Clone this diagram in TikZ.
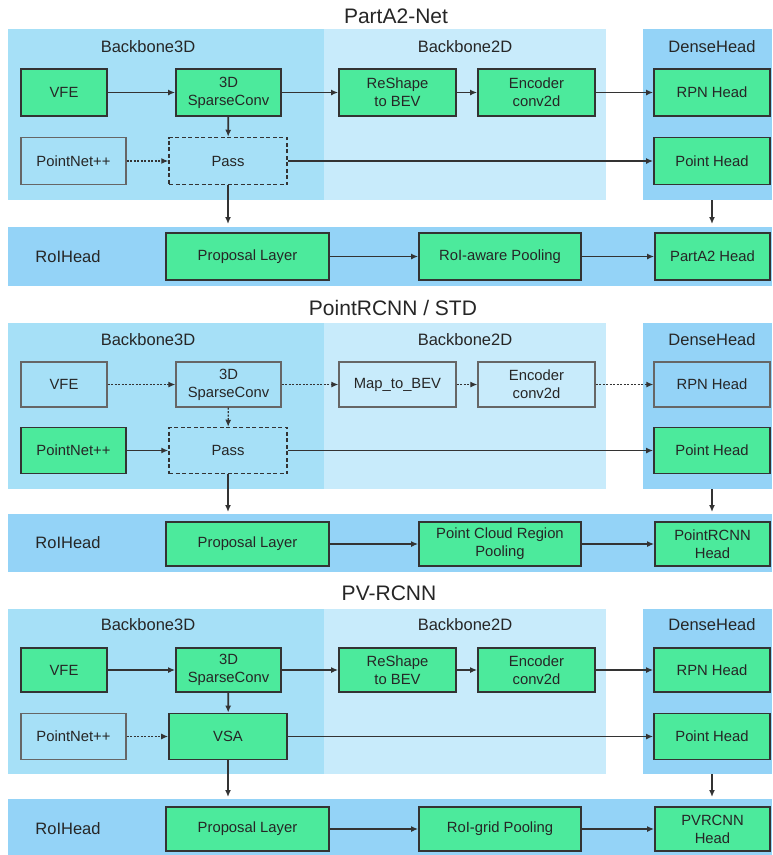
\documentclass[tikz,border=0pt]{standalone}
\usepackage{fontspec}
\setmainfont{Liberation Sans}
\usetikzlibrary{arrows.meta}

\definecolor{bbthree}{HTML}{A6E0F7}
\definecolor{bbtwo}{HTML}{C8EBFB}
\definecolor{headblue}{HTML}{94D3F7}
\definecolor{modgreen}{HTML}{4CEA9C}
\definecolor{edgegray}{HTML}{333333}
\definecolor{ink}{HTML}{262626}

\tikzset{
  zone/.style={draw=none, inner sep=0pt, outer sep=0pt},
  sz/.style 2 args={minimum width=#1pt, minimum height=#2pt},
  block/.style={draw=edgegray, line width=1.8pt, fill=modgreen, inner sep=1pt,
    align=center, text=ink, font=\fontsize{14.8}{18}\selectfont},
  ghost/.style={block, fill=none, draw=edgegray!75, line width=1.4pt},
  passbox/.style={ghost, draw=edgegray, line width=1.5pt, dash pattern=on 4pt off 2.5pt},
  flow/.style={draw=edgegray, line width=1.8pt, -{Latex[length=7pt,width=6pt]}},
  weak/.style={flow, line width=1.2pt, dash pattern=on 2pt off 1.5pt},
  zonelabel/.style={text=ink, font=\fontsize{16.5}{18}\selectfont},
  headline/.style={text=ink, font=\fontsize{21}{24}\selectfont},
}

\begin{document}
\begin{tikzpicture}[x=1pt, y=-1pt]
\useasboundingbox (0,0) rectangle (772,855);
\fill[white] (0,0) rectangle (772,855);

% ---------------- PartA2-Net ----------------
\node[headline] (t1) at (396,16) {PartA2-Net};
\node[zone, fill=bbthree, sz={316}{171}] (a3d) at (166,114.5) {};
\node[zone, fill=bbtwo, sz={282}{171}] (a2d) at (465,114.5) {};
\node[zone, fill=headblue, sz={129}{171}] (adh) at (707.5,114.5) {};
\node[zone, fill=headblue, sz={764}{59}] (aroi) at (390,256.5) {};
\node[zonelabel] (al1) at (148,47) {Backbone3D};
\node[zonelabel] (al2) at (465,47) {Backbone2D};
\node[zonelabel] (al3) at (712,47) {DenseHead};
\node[zonelabel] (al4) at (68,256.5) {RoIHead};

\node[block, sz={86}{47}] (avfe) at (64,92.5) {VFE};
\node[block, sz={105}{47}] (asp) at (228.5,92.5) {3D\\SparseConv};
\node[block, sz={117}{47}] (ars) at (397.5,92.5) {ReShape\\to BEV};
\node[block, sz={117}{47}] (aenc) at (536.5,92.5) {Encoder\\conv2d};
\node[block, sz={116}{47}] (arpn) at (712,92.5) {RPN Head};
\node[ghost, sz={105}{47}] (apn) at (73.5,161) {PointNet++};
\node[passbox, sz={118}{47}] (apass) at (228,161) {Pass};
\node[block, sz={116}{47}] (aph) at (712,161) {Point Head};
\node[block, sz={163}{47}] (aprop) at (247.5,256.5) {Proposal Layer};
\node[block, sz={162}{47}] (apool) at (500,256.5) {RoI-aware Pooling};
\node[block, sz={115}{47}] (ahead) at (712.5,256.5) {PartA2 Head};

\draw[flow] (avfe) -- (asp);
\draw[flow] (asp) -- (ars);
\draw[flow] (ars) -- (aenc);
\draw[flow] (aenc) -- (arpn);
\draw[flow] (asp) -- (apass);
\draw[weak] (apn) -- (apass);
\draw[flow] (apass) -- (aph);
\draw[flow, shorten >=3pt] (apass.south) -- (apass.south |- aroi.north);
\draw[flow, shorten >=3pt] (aph.south |- adh.south) -- (aph.south |- aroi.north);
\draw[flow] (aprop) -- (apool);
\draw[flow] (apool) -- (ahead);

% ---------------- PointRCNN / STD ----------------
\node[headline] (t2) at (393,308) {PointRCNN / STD};
\node[zone, fill=bbthree, sz={316}{166}] (b3d) at (166,406) {};
\node[zone, fill=bbtwo, sz={282}{166}] (b2d) at (465,406) {};
\node[zone, fill=headblue, sz={129}{166}] (bdh) at (707.5,406) {};
\node[zone, fill=headblue, sz={764}{58}] (broi) at (390,543) {};
\node[zonelabel] (bl1) at (148,340) {Backbone3D};
\node[zonelabel] (bl2) at (465,340) {Backbone2D};
\node[zonelabel] (bl3) at (712,340) {DenseHead};
\node[zonelabel] (bl4) at (68,543) {RoIHead};

\node[ghost, sz={86}{45}] (bvfe) at (64,384.5) {VFE};
\node[ghost, sz={105}{45}] (bsp) at (228.5,384.5) {3D\\SparseConv};
\node[ghost, sz={117}{45}] (bmap) at (397.5,384.5) {Map\_to\_BEV};
\node[ghost, sz={117}{45}] (benc) at (536.5,384.5) {Encoder\\conv2d};
\node[ghost, sz={116}{45}] (brpn) at (712,384.5) {RPN Head};
\node[block, sz={105}{46}] (bpn) at (73.5,450.5) {PointNet++};
\node[passbox, sz={118}{46}] (bpass) at (228,450.5) {Pass};
\node[block, sz={116}{46}] (bph) at (712,450.5) {Point Head};
\node[block, sz={163}{44}] (bprop) at (247.5,544) {Proposal Layer};
\node[block, sz={162}{44}] (bpool) at (500,544) {Point Cloud Region\\Pooling};
\node[block, sz={115}{44}] (bhead) at (712.5,544) {PointRCNN\\Head};

\draw[weak] (bvfe) -- (bsp);
\draw[weak] (bsp) -- (bmap);
\draw[weak] (bmap) -- (benc);
\draw[weak] (benc) -- (brpn);
\draw[weak] (bsp) -- (bpass);
\draw[flow] (bpn) -- (bpass);
\draw[flow] (bpass) -- (bph);
\draw[flow, shorten >=2pt] (bpass.south) -- (bpass.south |- broi.north);
\draw[flow, shorten >=2pt] (bph.south |- bdh.south) -- (bph.south |- broi.north);
\draw[flow] (bprop) -- (bpool);
\draw[flow] (bpool) -- (bhead);

% ---------------- PV-RCNN ----------------
\node[headline] (t3) at (389,593) {PV-RCNN};
\node[zone, fill=bbthree, sz={316}{165}] (c3d) at (166,691.5) {};
\node[zone, fill=bbtwo, sz={282}{165}] (c2d) at (465,691.5) {};
\node[zone, fill=headblue, sz={129}{165}] (cdh) at (707.5,691.5) {};
\node[zone, fill=headblue, sz={764}{56}] (croi) at (390,827) {};
\node[zonelabel] (cl1) at (148,625) {Backbone3D};
\node[zonelabel] (cl2) at (465,625) {Backbone2D};
\node[zonelabel] (cl3) at (712,625) {DenseHead};
\node[zonelabel] (cl4) at (68,829) {RoIHead};

\node[block, sz={86}{44}] (cvfe) at (64,670) {VFE};
\node[block, sz={105}{44}] (csp) at (228.5,670) {3D\\SparseConv};
\node[block, sz={117}{44}] (crs) at (397.5,670) {ReShape\\to BEV};
\node[block, sz={117}{44}] (cenc) at (536.5,670) {Encoder\\conv2d};
\node[block, sz={116}{44}] (crpn) at (712,670) {RPN Head};
\node[ghost, sz={105}{46}] (cpn) at (73.5,736.5) {PointNet++};
\node[block, sz={118}{46}] (cvsa) at (228,736.5) {VSA};
\node[block, sz={116}{46}] (cph) at (712,736.5) {Point Head};
\node[block, sz={163}{44}] (cprop) at (247.5,829) {Proposal Layer};
\node[block, sz={162}{44}] (cpool) at (500,829) {RoI-grid Pooling};
\node[block, sz={115}{44}] (chead) at (712.5,829) {PVRCNN\\Head};

\draw[flow] (cvfe) -- (csp);
\draw[flow] (csp) -- (crs);
\draw[flow] (crs) -- (cenc);
\draw[flow] (cenc) -- (crpn);
\draw[flow] (csp) -- (cvsa);
\draw[weak] (cpn) -- (cvsa);
\draw[flow] (cvsa) -- (cph);
\draw[flow, shorten >=2pt] (cvsa.south) -- (cvsa.south |- croi.north);
\draw[flow, shorten >=2pt] (cph.south |- cdh.south) -- (cph.south |- croi.north);
\draw[flow] (cprop) -- (cpool);
\draw[flow] (cpool) -- (chead);
\end{tikzpicture}
\end{document}
